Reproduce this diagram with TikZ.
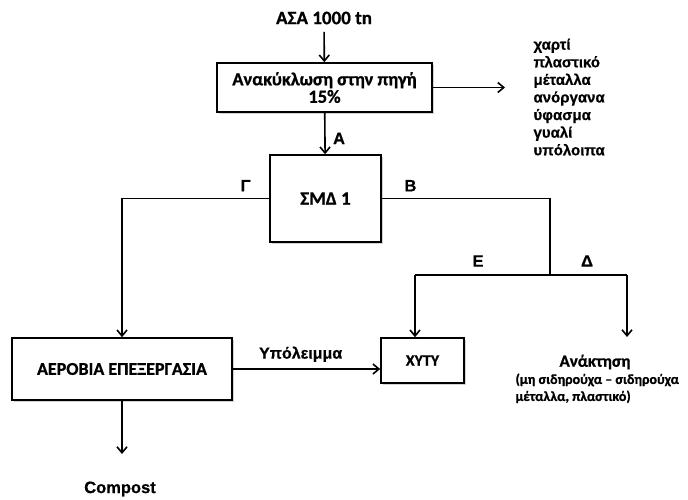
\documentclass[tikz,border=0pt]{standalone}
\usepackage{fontspec}
\setmainfont{Carlito}[BoldFeatures={FakeBold=0.8}]
\newfontfamily\arialfont{Liberation Sans}[BoldFeatures={FakeBold=0.6}]
\usetikzlibrary{arrows.meta,shadows}

\begin{document}
\begin{tikzpicture}[x=1pt,y=-1pt,
    box/.style={draw,line width=1.6pt,fill=white,font=\bfseries\fontsize{16}{19}\selectfont,
      drop shadow={opacity=0.35,shadow xshift=1.5pt,shadow yshift=-1.5pt},align=center},
    flow/.style={line width=1.6pt,-{Straight Barb[length=6pt,width=10pt]}},
    pipe/.style={line width=1.6pt},
    lbl/.style={font=\arialfont\bfseries\fontsize{16.5}{18}\selectfont}]
    \useasboundingbox (0,0) rectangle (688,499);

    % Input and source recycling
    \node[font=\bfseries\fontsize{19}{21}\selectfont] (asa) at (324,18) {ΑΣΑ 1000 tn};
    \node[box,minimum width=215pt,minimum height=49pt,font=\bfseries\fontsize{18.5}{17.5}\selectfont]
      (rec) at (324.5,87.5) {Ανακύκλωση στην πηγή\\15\%};
    \coordinate (recout) at (505,87.5);
    \node[anchor=west,align=left,font=\arialfont\bfseries\fontsize{15}{17.6}\selectfont]
      (mat) at (530,97) {χαρτί\\πλαστικό\\μέταλλα\\ανόργανα\\ύφασμα\\γυαλί\\υπόλοιπα};

    % Sorting unit
    \node[box,minimum width=111pt,minimum height=87pt,font=\bfseries\fontsize{19}{21}\selectfont]
      (smd) at (325.5,198.5) {ΣΜΔ 1};

    % Downstream units
    \node[box,minimum width=220pt,minimum height=62pt,font=\bfseries\fontsize{18}{20}\selectfont]
      (aer) at (122,369) {ΑΕΡΟΒΙΑ ΕΠΕΞΕΡΓΑΣΙΑ};
    \node[box,minimum width=83pt,minimum height=45pt] (xyty) at (422.5,360.5) {ΧΥΤΥ};
    \node[lbl] (comp) at (120,489) {Compost};
    \node[font=\bfseries\fontsize{17}{19}\selectfont] (anak) at (595,362) {Ανάκτηση};
    \node[anchor=north west,align=left,font=\bfseries\fontsize{14}{17}\selectfont]
      (anakx) at (512,370) {(μη σιδηρούχα – σιδηρούχα\\μέταλλα, πλαστικό)};

    % Branch points
    \coordinate (split) at (550,275);
    \coordinate (ebr) at (415,275);
    \coordinate (dbr) at (627,275);
    \coordinate (dend) at (627,337);

    % Flows
    \draw[flow,shorten <=4pt] (asa) -- (rec);
    \draw[flow] (rec.east) -- (recout);
    \draw[flow] (rec) -- (smd) node[lbl,pos=0.62,right=4pt] (la) {Α};
    \draw[flow] (smd.west) -| (aer.north) node[lbl,pos=0.08,above=3pt] (lg) {Γ};
    \draw[pipe] (smd.east) -| (split) node[lbl,pos=0.085,above=3pt] (lb) {Β};
    \draw[pipe] (ebr) -- (dbr);
    \draw[flow] (ebr) -- (ebr |- xyty.north);
    \draw[flow] (dbr) -- (dend);
    \node[lbl] (le) at (478,261) {Ε};
    \node[lbl] (ld) at (587,261) {Δ};
    \draw[flow] (aer.east) -- (aer.east -| xyty.west)
      node[lbl,pos=0.46,above=3pt,font=\arialfont\bfseries\fontsize{16}{18}\selectfont] (lres) {Υπόλειμμα};
    \draw[flow,shorten >=24pt] (aer.south) -- (aer.south |- comp.north);
\end{tikzpicture}
\end{document}
